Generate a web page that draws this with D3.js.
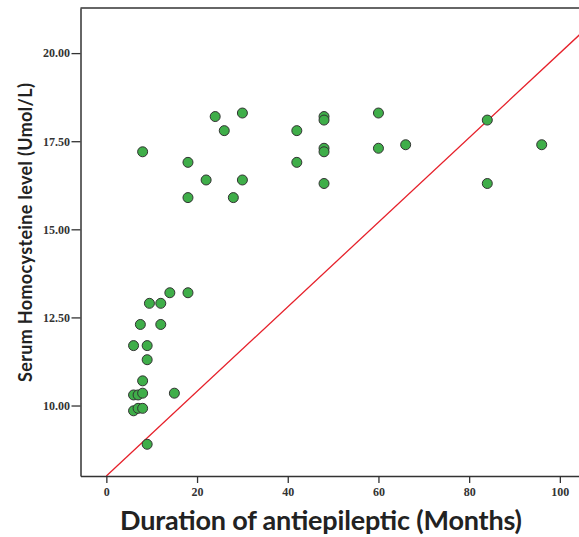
<!DOCTYPE html>
<html>
<head>
<meta charset="utf-8">
<script src="https://cdn.jsdelivr.net/npm/d3@7"></script>
<style>
  body { margin: 0; background: #fff; }
  svg { display: block; }
</style>
</head>
<body>
<svg id="chart" width="579" height="537"></svg>
<script>
// data {{{ //
const months = [8, 18, 18, 22, 24, 26, 28, 30, 30, 42, 42, 48, 48, 48, 48, 48, 60, 60, 66, 84, 84, 96,
  14, 18, 9.5, 12, 7.5, 12, 6, 9, 9, 8, 6, 7, 8, 15, 6, 7, 8, 9];
const homocysteine = [17.2, 16.9, 15.9, 16.4, 18.2, 17.8, 15.9, 18.3, 16.4, 17.8, 16.9, 18.2, 18.1, 17.3, 17.2, 16.3, 18.3, 17.3, 17.4, 18.1, 16.3, 17.4,
  13.2, 13.2, 12.9, 12.9, 12.3, 12.3, 11.7, 11.7, 11.3, 10.7, 10.3, 10.3, 10.35, 10.35, 9.85, 9.92, 9.92, 8.9];
const xTicks = [0, 20, 40, 60, 80, 100];
const yTicks = [10, 12.5, 15, 17.5, 20];
// reference line: homocysteine = 8 + 0.12 * months
const refLine = [[0, 8], [110, 21.2]];
// }}} data //

const svg = d3.select("#chart");
const plotLeft = 80.5, plotTop = 8, plotBottom = 476;

const x = d3.scaleLinear().domain([-5.7, 105]).range([plotLeft, plotLeft + 110.7 * 4.535]);
const y = d3.scaleLinear().domain([8, 21.28]).range([plotBottom, plotTop]);

// clip for plot area
svg.append("clipPath").attr("id", "plot")
  .append("rect").attr("x", plotLeft).attr("y", plotTop).attr("width", 600).attr("height", plotBottom - plotTop);

// reference line
svg.append("line")
  .attr("clip-path", "url(#plot)")
  .attr("x1", x(refLine[0][0])).attr("y1", y(refLine[0][1]))
  .attr("x2", x(refLine[1][0])).attr("y2", y(refLine[1][1]))
  .attr("stroke", "#e6202a").attr("stroke-width", 1.3);

// points
svg.append("g").selectAll("circle")
  .data(months.map((m, i) => [m, homocysteine[i]]))
  .enter().append("circle")
  .attr("cx", d => x(d[0]))
  .attr("cy", d => y(d[1]))
  .attr("r", 5)
  .attr("fill", "#3fae49")
  .attr("stroke", "#333")
  .attr("stroke-width", 1);

// frame top
svg.append("line")
  .attr("x1", plotLeft).attr("x2", 579).attr("y1", plotTop).attr("y2", plotTop)
  .attr("stroke", "#333").attr("stroke-width", 1.5);

// x-axis {{{ //
const gx = svg.append("g")
  .attr("transform", "translate(0," + plotBottom + ")")
  .call(d3.axisBottom(x).tickValues(xTicks).tickSize(7).tickSizeOuter(0).tickPadding(4));
gx.select(".domain").attr("stroke", "#333").attr("stroke-width", 1.5);
gx.selectAll(".tick line").attr("stroke", "#333").attr("stroke-width", 1.3);
gx.selectAll(".tick text")
  .attr("fill", "#333")
  .style("font-family", "'Liberation Serif', serif")
  .style("font-weight", "bold")
  .style("font-size", "12px");
// }}} x-axis //

// y-axis {{{ //
const gy = svg.append("g")
  .attr("transform", "translate(" + plotLeft + ",0)")
  .call(d3.axisLeft(y).tickValues(yTicks).tickFormat(d3.format(".2f")).tickSize(9).tickSizeOuter(0).tickPadding(1.5));
gy.select(".domain").attr("stroke", "#333").attr("stroke-width", 1.5);
gy.selectAll(".tick line").attr("stroke", "#333").attr("stroke-width", 1.3);
gy.selectAll(".tick text")
  .attr("fill", "#333")
  .style("font-family", "'Liberation Serif', serif")
  .style("font-weight", "bold")
  .style("font-size", "12px");
// }}} y-axis //

// axis titles
svg.append("text")
  .attr("x", 120).attr("y", 530)
  .attr("textLength", 402)
  .attr("lengthAdjust", "spacing")
  .attr("fill", "#222")
  .style("font-family", "Lato, sans-serif")
  .style("font-weight", "bold")
  .style("font-size", "27px")
  .text("Duration of antiepileptic (Months)");

svg.append("text")
  .attr("transform", "translate(32,382) rotate(-90)")
  .attr("textLength", 299)
  .attr("lengthAdjust", "spacing")
  .attr("fill", "#222")
  .style("font-family", "Lato, sans-serif")
  .style("font-weight", "bold")
  .style("font-size", "18px")
  .text("Serum Homocysteine level (Umol/L)");
</script>
</body>
</html>
